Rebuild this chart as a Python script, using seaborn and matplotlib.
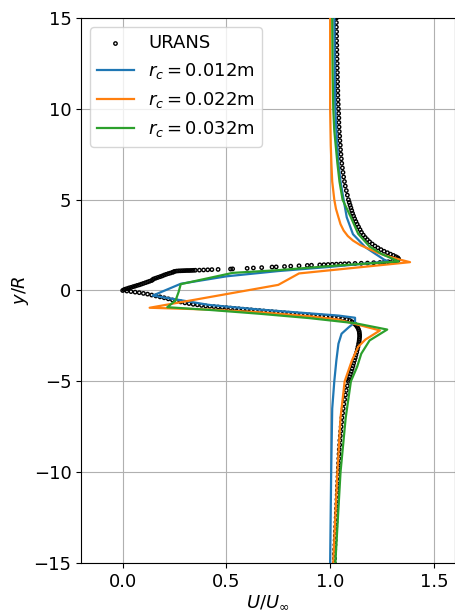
import numpy as np
import pandas as pd
import matplotlib
matplotlib.use("Agg")
import matplotlib.pyplot as plt
import seaborn as sns

# URANS velocity profile along the probe line (U/U_inf, y/R), ordered from top to bottom
urans_y = [
    15.00, 14.75, 14.50, 14.25, 14.00, 13.75, 13.50, 13.25, 13.00, 12.75,
    12.50, 12.25, 12.00, 11.75, 11.50, 11.25, 11.00, 10.75, 10.50, 10.25,
    10.00, 9.75, 9.50, 9.25, 9.00, 8.75, 8.50, 8.25, 8.00, 7.75,
    7.50, 7.25, 7.00, 6.75, 6.50, 6.25, 6.00, 5.75, 5.50, 5.25,
    5.00, 4.85, 4.70, 4.55, 4.40, 4.25, 4.10, 3.95, 3.80, 3.65,
    3.50, 3.35, 3.20, 3.05, 2.92, 2.80, 2.68, 2.56, 2.45, 2.35,
    2.25, 2.16, 2.08, 2.00, 1.93, 1.86, 1.80, 1.74, 1.68, 1.63,
    1.60, 1.58, 1.56, 1.54, 1.53, 1.51, 1.50, 1.49, 1.48, 1.47,
    1.46, 1.45, 1.44, 1.43, 1.42, 1.41, 1.39, 1.38, 1.36, 1.34,
    1.32, 1.30, 1.29, 1.26, 1.24, 1.22, 1.19, 1.18, 1.16, 1.15,
    1.14, 1.13, 1.12, 1.115, 1.11, 1.105, 1.10, 1.10, 1.095, 1.09,
    1.085, 1.08, 1.07, 1.05, 1.02, 1.00, 0.96, 0.93, 0.89, 0.85,
    0.80, 0.76, 0.72, 0.68, 0.64, 0.60, 0.55, 0.51, 0.47, 0.43,
    0.39, 0.35, 0.31, 0.28, 0.24, 0.21, 0.17, 0.14, 0.10, 0.07,
    0.04, 0.00,
    -0.03, -0.06, -0.09, -0.12, -0.16, -0.20, -0.25, -0.30, -0.35, -0.40,
    -0.46, -0.52, -0.58, -0.63, -0.68, -0.72, -0.76, -0.79, -0.82, -0.85,
    -0.87, -0.89, -0.91, -0.93, -0.95, -0.97, -0.99, -1.01, -1.03, -1.05,
    -1.07, -1.09, -1.11, -1.13, -1.15, -1.17, -1.19, -1.21, -1.23, -1.25,
    -1.27, -1.29, -1.31, -1.33, -1.35, -1.37, -1.39, -1.41, -1.43, -1.45,
    -1.47, -1.50, -1.54, -1.59, -1.65, -1.72, -1.80, -1.88, -1.96, -2.05,
    -2.15, -2.25, -2.35, -2.45, -2.55, -2.65, -2.75, -2.85, -2.95, -3.10,
    -3.25, -3.40, -3.55, -3.70, -3.85, -4.00, -4.15, -4.30, -4.45, -4.60,
    -4.75, -4.90, -5.00, -5.25, -5.50, -5.75, -6.00, -6.25, -6.50, -6.75,
    -7.00, -7.25, -7.50, -7.75, -8.00, -8.25, -8.50, -8.75, -9.00, -9.25,
    -9.50, -9.75, -10.00, -10.25, -10.50, -10.75, -11.00, -11.25, -11.50, -11.75,
    -12.00, -12.25, -12.50, -12.75, -13.00, -13.25, -13.50, -13.75, -14.00, -14.25,
    -14.50, -14.75, -15.00,
]
urans_u = [
    1.030, 1.030, 1.030, 1.031, 1.031, 1.031, 1.032, 1.032, 1.033, 1.033,
    1.034, 1.034, 1.035, 1.035, 1.036, 1.036, 1.037, 1.037, 1.038, 1.039,
    1.040, 1.041, 1.042, 1.042, 1.043, 1.044, 1.046, 1.047, 1.049, 1.050,
    1.052, 1.054, 1.056, 1.059, 1.062, 1.065, 1.069, 1.073, 1.078, 1.083,
    1.088, 1.092, 1.096, 1.100, 1.104, 1.108, 1.113, 1.118, 1.124, 1.130,
    1.137, 1.144, 1.151, 1.160, 1.169, 1.179, 1.190, 1.203, 1.216, 1.230,
    1.245, 1.260, 1.276, 1.291, 1.305, 1.317, 1.326, 1.330, 1.328, 1.316,
    1.30, 1.28, 1.26, 1.24, 1.21, 1.18, 1.15, 1.12, 1.09, 1.07,
    1.05, 1.03, 1.01, 0.99, 0.97, 0.95, 0.91, 0.89, 0.85, 0.81,
    0.78, 0.74, 0.72, 0.67, 0.63, 0.60, 0.53, 0.52, 0.46, 0.43,
    0.41, 0.39, 0.37, 0.35, 0.34, 0.33, 0.32, 0.31, 0.30, 0.29,
    0.28, 0.27, 0.26, 0.25, 0.245, 0.24, 0.23, 0.22, 0.21, 0.20,
    0.19, 0.18, 0.17, 0.16, 0.15, 0.145, 0.14, 0.13, 0.12, 0.11,
    0.10, 0.09, 0.08, 0.07, 0.06, 0.05, 0.04, 0.03, 0.02, 0.012,
    0.006, 0.00,
    0.02, 0.04, 0.06, 0.08, 0.10, 0.12, 0.14, 0.16, 0.18, 0.20,
    0.22, 0.24, 0.26, 0.28, 0.30, 0.32, 0.34, 0.36, 0.38, 0.40,
    0.42, 0.44, 0.46, 0.48, 0.50, 0.52, 0.54, 0.56, 0.58, 0.60,
    0.62, 0.64, 0.66, 0.68, 0.70, 0.72, 0.74, 0.76, 0.78, 0.80,
    0.82, 0.84, 0.86, 0.88, 0.90, 0.92, 0.94, 0.96, 0.98, 1.00,
    1.02, 1.04, 1.06, 1.08, 1.095, 1.105, 1.115, 1.122, 1.128, 1.133,
    1.137, 1.140, 1.141, 1.142, 1.142, 1.141, 1.140, 1.139, 1.137, 1.134,
    1.131, 1.128, 1.124, 1.121, 1.117, 1.113, 1.110, 1.106, 1.102, 1.098,
    1.094, 1.090, 1.088, 1.083, 1.078, 1.074, 1.070, 1.066, 1.063, 1.060,
    1.057, 1.055, 1.053, 1.051, 1.049, 1.047, 1.046, 1.044, 1.043, 1.042,
    1.041, 1.040, 1.039, 1.038, 1.037, 1.036, 1.035, 1.034, 1.033, 1.032,
    1.031, 1.030, 1.029, 1.028, 1.027, 1.026, 1.025, 1.024, 1.023, 1.022,
    1.021, 1.021, 1.020,
]

# Vortex model profiles for three core radii
rc012_u = [1.020, 1.022, 1.025, 1.030, 1.040, 1.050, 1.065, 1.080, 1.110, 1.170,
           1.220, 1.260, 1.280, 1.000, 0.750, 0.500, 0.280, 0.145, 0.420, 0.660,
           1.040, 1.120, 1.120, 1.090, 1.055, 1.040, 1.030, 1.020, 1.010, 1.005, 1.000]
rc012_y = [15.0, 12.0, 10.0, 8.8, 7.0, 6.0, 5.0, 4.03, 3.1, 2.38,
           2.0, 1.7, 1.6, 1.30, 1.07, 0.78, 0.37, -0.28, -0.80, -1.05,
           -1.38, -1.50, -1.75, -2.02, -2.38, -2.93, -3.85, -5.0, -6.5, -10.0, -15.0]

rc022_u = [1.000, 1.000, 1.000, 1.003, 1.006, 1.010, 1.015, 1.020, 1.028, 1.040,
           1.050, 1.065, 1.085, 1.110, 1.145, 1.185, 1.225, 1.265, 1.340, 1.385,
           0.850, 0.750, 0.130, 0.420, 0.660, 0.900, 1.040, 1.240, 1.170, 1.135,
           1.105, 1.070, 1.050, 1.035, 1.015]
rc022_y = [15.0, 12.0, 10.0, 8.0, 7.0, 6.0, 5.5, 5.0, 4.5, 4.03,
           3.65, 3.3, 3.0, 2.75, 2.5, 2.3, 2.1, 1.93, 1.69, 1.56,
           0.94, 0.31, -0.95, -1.05, -1.20, -1.42, -1.60, -2.20, -2.70, -3.10,
           -3.85, -5.0, -7.0, -10.0, -15.0]

rc032_u = [1.010, 1.012, 1.015, 1.020, 1.035, 1.045, 1.060, 1.100, 1.135, 1.190,
           1.250, 1.320, 1.330, 1.040, 0.750, 0.530, 0.280, 0.270, 0.255, 0.215,
           0.420, 0.660, 0.900, 1.120, 1.275, 1.190, 1.150, 1.130, 1.100, 1.075,
           1.050, 1.025]
rc032_y = [15.0, 12.0, 10.0, 8.8, 7.0, 6.0, 5.0, 4.03, 3.12, 2.42,
           2.0, 1.65, 1.6, 1.38, 1.12, 0.97, 0.35, -0.07, -0.55, -0.92,
           -1.07, -1.28, -1.52, -1.80, -2.15, -2.75, -3.48, -4.2, -5.0, -7.0,
           -10.0, -15.0]

series = [
    (r"$r_c = 0.012$m", rc012_u, rc012_y),
    (r"$r_c = 0.022$m", rc022_u, rc022_y),
    (r"$r_c = 0.032$m", rc032_u, rc032_y),
]
colors = sns.color_palette("tab10")[:3]

plt.rcParams["font.family"] = ["DejaVu Sans"]
plt.rcParams["font.size"] = 13

fig, ax = plt.subplots(figsize=(4.56, 6.11), dpi=100)
fig.subplots_adjust(left=0.178, right=0.997, top=0.9705, bottom=0.0786)

urans = pd.DataFrame({"u": urans_u, "y": urans_y})
sns.scatterplot(data=urans, x="u", y="y", ax=ax, marker="o", s=6,
                facecolor="none", edgecolor="black", linewidth=1.0,
                label="URANS", zorder=2)

for (lab, u, y), c in zip(series, colors):
    df = pd.DataFrame({"u": u, "y": y})
    sns.lineplot(data=df, x="u", y="y", ax=ax, sort=False, estimator=None,
                 color=c, linewidth=1.6, label=lab, zorder=3)

ax.set_xlim(-0.2, 1.6)
ax.set_ylim(-15, 15)
ax.set_xticks([0.0, 0.5, 1.0, 1.5])
ax.set_yticks([-15, -10, -5, 0, 5, 10, 15])
ax.grid(True, color="#b0b0b0", linewidth=0.8)
ax.set_axisbelow(True)
ax.set_xlabel(r"$U/U_{\infty}$", labelpad=2)
ax.set_ylabel(r"$y/R$", labelpad=2)
ax.tick_params(labelsize=13)
ax.legend(loc="upper left", fontsize=13)

fig.savefig("out.png", dpi=100)
